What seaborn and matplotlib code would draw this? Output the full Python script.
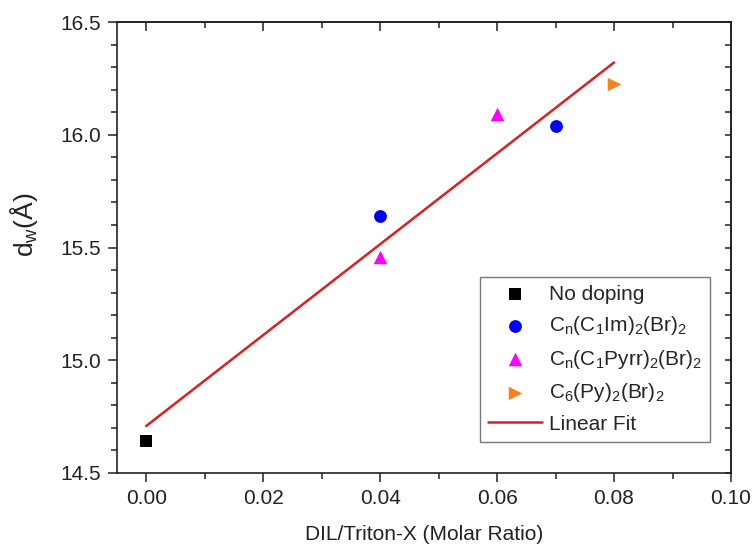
import numpy as np
import pandas as pd
import matplotlib
matplotlib.use("Agg")
import matplotlib.pyplot as plt
from matplotlib.ticker import MultipleLocator, NullFormatter, FormatStrFormatter
import seaborn as sns

# ---- data ----
series_names = ["No doping",
                r"C$_n$(C$_1$Im)$_2$(Br)$_2$",
                r"C$_n$(C$_1$Pyrr)$_2$(Br)$_2$",
                r"C$_6$(Py)$_2$(Br)$_2$"]
x_nodoping = [0.00]
y_nodoping = [14.64]
x_im = [0.04, 0.07]
y_im = [15.64, 16.04]
x_pyrr = [0.04, 0.06]
y_pyrr = [15.46, 16.09]
x_py = [0.08]
y_py = [16.225]
fit_label = "Linear Fit"
x_label = "DIL/Triton-X (Molar Ratio)"
y_label = r"d$_w$(Å)"

sns.set_style("ticks")
plt.rcParams["font.family"] = ["Liberation Sans", "DejaVu Sans"]
plt.rcParams["mathtext.fontset"] = "custom"
plt.rcParams["mathtext.rm"] = "Liberation Sans"
plt.rcParams["mathtext.it"] = "Liberation Sans:italic"
plt.rcParams["mathtext.bf"] = "Liberation Sans:bold"
plt.rcParams["mathtext.default"] = "regular"

fig = plt.figure(figsize=(7.54, 5.45), dpi=100)
ax = fig.add_axes([117 / 754, 1 - 473 / 545, (731 - 117) / 754, (473 - 22) / 545])

styles = [
    (x_nodoping, y_nodoping, "s", "black", 75),
    (x_im, y_im, "o", "#0000FF", 85),
    (x_pyrr, y_pyrr, "^", "#FF00FF", 95),
    (x_py, y_py, ">", "#F7821B", 95),
]
for name, (xs, ys, m, c, s) in zip(series_names, styles):
    df = pd.DataFrame({"x": xs, "y": ys})
    sns.scatterplot(data=df, x="x", y="y", marker=m, color=c, s=s,
                    edgecolor=c, linewidth=0, ax=ax, label=name, zorder=3)

all_x = np.array(x_nodoping + x_im + x_pyrr + x_py)
all_y = np.array(y_nodoping + y_im + y_pyrr + y_py)
sns.regplot(x=all_x, y=all_y, scatter=False, ci=None, truncate=True, ax=ax,
            label=fit_label, line_kws=dict(color="#E01E1E", lw=1.8, zorder=2))

ax.set_xlim(-0.005, 0.10)
ax.set_ylim(14.5, 16.5)
ax.xaxis.set_major_locator(MultipleLocator(0.02))
ax.xaxis.set_minor_locator(MultipleLocator(0.01))
ax.yaxis.set_major_locator(MultipleLocator(0.5))
ax.yaxis.set_minor_locator(MultipleLocator(0.1))
ax.xaxis.set_major_formatter(FormatStrFormatter("%.2f"))
ax.yaxis.set_major_formatter(FormatStrFormatter("%.1f"))

ax.tick_params(which="both", direction="out", colors="#222222",
               labelcolor="#222222", width=1.1, labelsize=15)
ax.tick_params(which="major", length=6.5, pad=5)
ax.tick_params(which="minor", length=4)
for sp in ax.spines.values():
    sp.set_visible(True)
    sp.set_linewidth(1.2)
    sp.set_color("#222222")

sec_x = ax.secondary_xaxis("top")
sec_x.xaxis.set_major_locator(MultipleLocator(0.02))
sec_x.xaxis.set_minor_locator(MultipleLocator(0.01))
sec_x.xaxis.set_major_formatter(NullFormatter())
sec_x.tick_params(which="both", direction="in", width=1.1, colors="#222222")
sec_x.tick_params(which="major", length=6.5)
sec_x.tick_params(which="minor", length=4)
sec_x.spines["top"].set_linewidth(1.2)

sec_y = ax.secondary_yaxis("right")
sec_y.yaxis.set_major_locator(MultipleLocator(0.5))
sec_y.yaxis.set_minor_locator(MultipleLocator(0.1))
sec_y.yaxis.set_major_formatter(NullFormatter())
sec_y.tick_params(which="both", direction="in", width=1.1, colors="#222222")
sec_y.tick_params(which="major", length=4)
sec_y.tick_params(which="minor", length=4)
sec_y.spines["right"].set_linewidth(1.2)

ax.set_xlabel(x_label, fontsize=15, color="#222222", labelpad=12)
ax.set_ylabel(y_label, fontsize=19, color="#222222")
ax.yaxis.set_label_coords(-0.125, 0.55)

handles, labels = ax.get_legend_handles_labels()
leg = ax.legend(handles, labels, loc="lower right", bbox_to_anchor=(0.966, 0.069),
                fontsize=15, frameon=True, fancybox=False, edgecolor="#555555",
                handlelength=2.6, handletextpad=0.3, labelspacing=0.5,
                borderpad=0.4, borderaxespad=0)
leg.get_frame().set_linewidth(1.0)

fig.savefig("out.png", dpi=100)
